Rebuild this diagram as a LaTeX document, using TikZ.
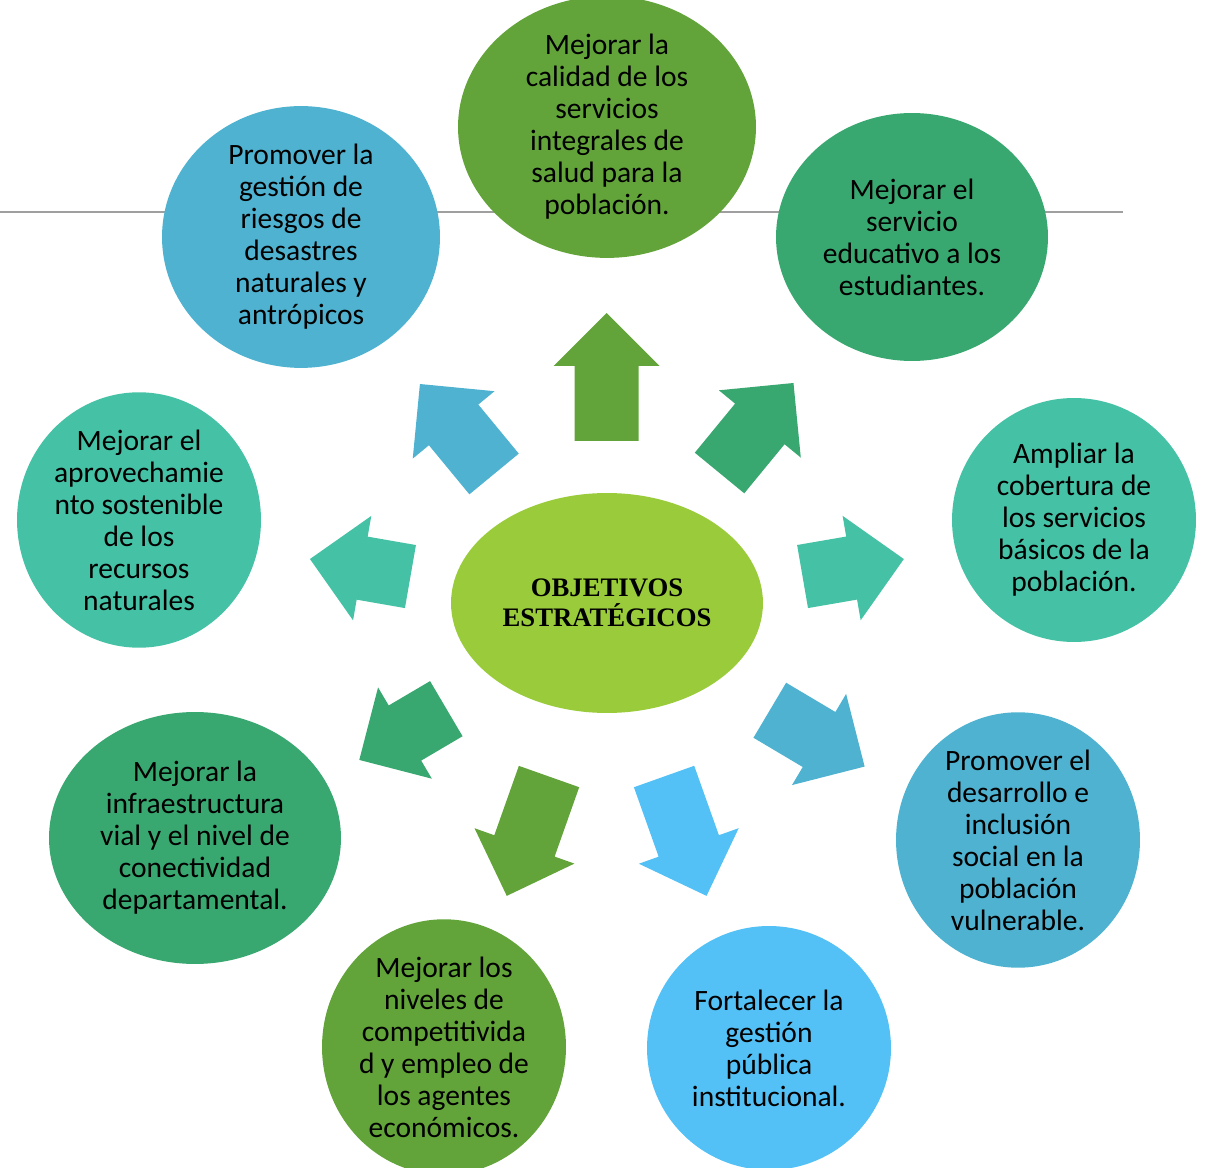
\documentclass[tikz,border=0pt]{standalone}
\usepackage{fontspec}
\setmainfont{Carlito}
\newfontfamily\titlefont{Liberation Serif}
\usetikzlibrary{shapes.geometric}
\definecolor{cOlive}{RGB}{98,164,57}
\definecolor{cJade}{RGB}{56,168,112}
\definecolor{cCyan}{RGB}{78,178,208}
\definecolor{cTeal}{RGB}{69,194,165}
\definecolor{cSky}{RGB}{83,193,245}
\definecolor{cLime}{RGB}{154,203,58}
\tikzset{goal/.style={ellipse, inner sep=0pt, align=center,
   font=\fontsize{16.8}{18.2}\selectfont},
 small goal/.style={goal, minimum width=4.88cm, minimum height=4.88cm},
}

\begin{document}
\begin{tikzpicture}[x=0.02cm, y=-0.02cm]
        \useasboundingbox (0,0) rectangle (1210,1168);
        \draw[gray!75, line width=1.1pt] (0,212) -- (1123,212);
        % block arrows: centre x / centre y / angle / length / colour
        \foreach \cx/\cy/\ang/\len/\col in {606.5/377/90/128/cOlive,
            457/429/129.5/116.6/cCyan, 756.5/428/50.6/116.5/cJade,
            853.2/567.8/9.8/102.8/cTeal, 360.2/567.8/170.1/102/cTeal,
            817.2/738.4/-30.7/110.3/cCyan, 402.8/734.3/-149.5/101/cJade,
            527.9/836.2/-109.5/126.6/cOlive, 685.3/836.2/-70.4/126.7/cSky} {
            \fill[\col, shift={(\cx,\cy)}, rotate=\ang] (-\len/2,-32) -- (\len/2-53,-32)
                -- (\len/2-53,-53) -- (\len/2,0) -- (\len/2-53,53) -- (\len/2-53,32)
                -- (-\len/2,32) -- cycle;
        }
        \node[goal, fill=cLime, minimum width=6.24cm, minimum height=4.4cm,
            font=\titlefont\bfseries\fontsize{15.2}{17}\selectfont] (obj) at (607,603)
            {OBJETIVOS\\ESTRATÉGICOS};
        \node[goal, fill=cOlive, minimum width=5.96cm, minimum height=5cm] (salud) at (607,127)
            {Mejorar la\\calidad de los\\servicios\\integrales de\\salud para la\\población.};
        \node[goal, fill=cCyan, minimum width=5.56cm, minimum height=5.08cm] (riesgos) at (301,237)
            {Promover la\\gestión de\\riesgos de\\desastres\\naturales y\\antrópicos};
        \node[goal, fill=cJade, minimum width=5.44cm, minimum height=4.96cm] (educ) at (912,237)
            {Mejorar el\\servicio\\educativo a los\\estudiantes.};
        \node[small goal, fill=cTeal] (basicos) at (1074,520)
            {Ampliar la\\cobertura de\\los servicios\\básicos de la\\población.};
        \node[small goal, fill=cTeal] (recursos) at (139,520)
            {Mejorar el\\aprovechamie\\nto sostenible\\de los\\recursos\\naturales};
        \node[goal, fill=cJade, minimum width=5.84cm, minimum height=5.04cm] (vial) at (195,838)
            {Mejorar la\\infraestructura\\vial y el nivel de\\conectividad\\departamental.};
        \node[small goal, fill=cCyan] (inclusion) at (1018,840)
            {Promover el\\desarrollo e\\inclusión\\social en la\\población\\vulnerable.};
        \node[small goal, fill=cOlive] (empleo) at (444,1047)
            {Mejorar los\\niveles de\\competitivida\\d y empleo de\\los agentes\\económicos.};
        \node[small goal, fill=cSky] (gestion) at (769,1048)
            {Fortalecer la\\gestión\\pública\\institucional.};
    \end{tikzpicture}
\end{document}
